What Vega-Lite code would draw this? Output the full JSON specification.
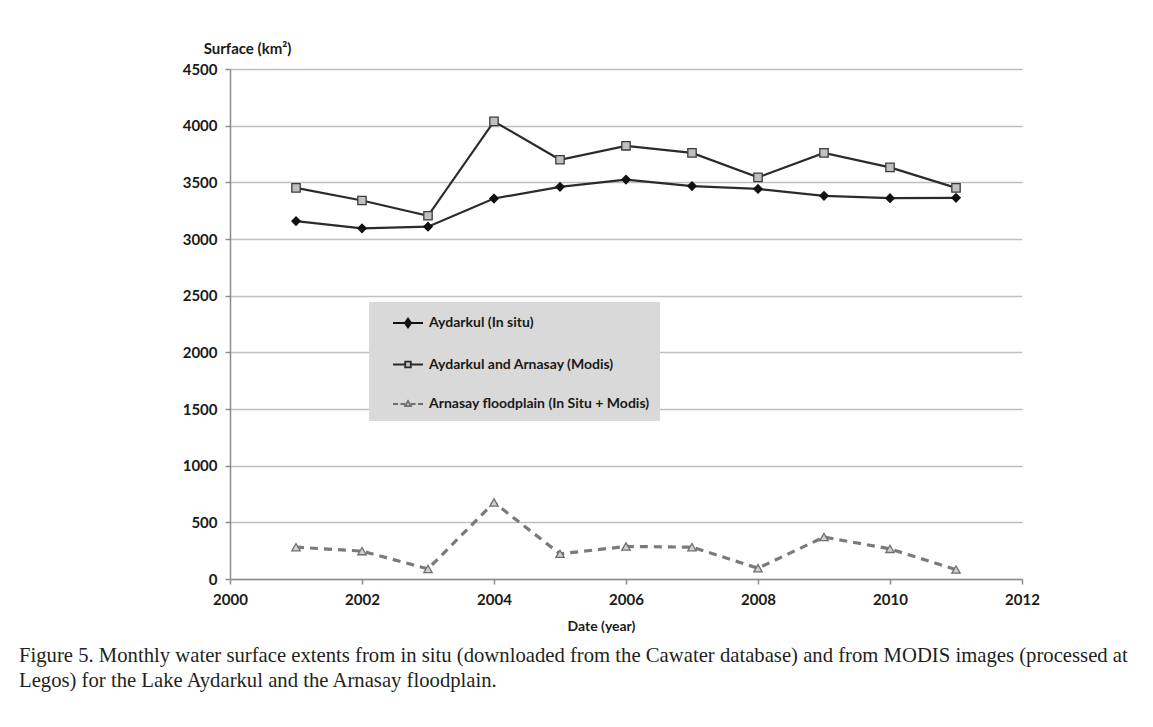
{
  "$schema": "https://vega.github.io/schema/vega-lite/v6.json",
  "width": 792,
  "height": 510,
  "autosize": {"type": "none"},
  "padding": {"left": 230, "top": 69, "right": 131, "bottom": 148},
  "background": "white",
  "title": {
    "text": ["Figure 5. Monthly water surface extents from in situ (downloaded from the Cawater database) and from MODIS images (processed at", "Legos) for the Lake Aydarkul and the Arnasay floodplain."],
    "orient": "bottom",
    "anchor": "start",
    "frame": "group",
    "dx": -211,
    "offset": 13,
    "font": "Liberation Serif",
    "fontSize": 20.7,
    "fontWeight": "normal",
    "color": "#231f20",
    "lineHeight": 25
  },
  "config": {
    "view": {"stroke": null},
    "font": "Lato"
  },
  "data": {
    "values": [
      {"year": 2001, "series": "Aydarkul (In situ)", "value": 3158},
      {"year": 2002, "series": "Aydarkul (In situ)", "value": 3094},
      {"year": 2003, "series": "Aydarkul (In situ)", "value": 3109},
      {"year": 2004, "series": "Aydarkul (In situ)", "value": 3357},
      {"year": 2005, "series": "Aydarkul (In situ)", "value": 3460},
      {"year": 2006, "series": "Aydarkul (In situ)", "value": 3524},
      {"year": 2007, "series": "Aydarkul (In situ)", "value": 3467},
      {"year": 2008, "series": "Aydarkul (In situ)", "value": 3442},
      {"year": 2009, "series": "Aydarkul (In situ)", "value": 3381},
      {"year": 2010, "series": "Aydarkul (In situ)", "value": 3360},
      {"year": 2011, "series": "Aydarkul (In situ)", "value": 3363},
      {"year": 2001, "series": "Aydarkul and Arnasay (Modis)", "value": 3451},
      {"year": 2002, "series": "Aydarkul and Arnasay (Modis)", "value": 3340},
      {"year": 2003, "series": "Aydarkul and Arnasay (Modis)", "value": 3205},
      {"year": 2004, "series": "Aydarkul and Arnasay (Modis)", "value": 4038},
      {"year": 2005, "series": "Aydarkul and Arnasay (Modis)", "value": 3699},
      {"year": 2006, "series": "Aydarkul and Arnasay (Modis)", "value": 3822},
      {"year": 2007, "series": "Aydarkul and Arnasay (Modis)", "value": 3760},
      {"year": 2008, "series": "Aydarkul and Arnasay (Modis)", "value": 3544},
      {"year": 2009, "series": "Aydarkul and Arnasay (Modis)", "value": 3760},
      {"year": 2010, "series": "Aydarkul and Arnasay (Modis)", "value": 3632},
      {"year": 2011, "series": "Aydarkul and Arnasay (Modis)", "value": 3451},
      {"year": 2001, "series": "Arnasay floodplain (In Situ + Modis)", "value": 281},
      {"year": 2002, "series": "Arnasay floodplain (In Situ + Modis)", "value": 246},
      {"year": 2003, "series": "Arnasay floodplain (In Situ + Modis)", "value": 89},
      {"year": 2004, "series": "Arnasay floodplain (In Situ + Modis)", "value": 675},
      {"year": 2005, "series": "Arnasay floodplain (In Situ + Modis)", "value": 222},
      {"year": 2006, "series": "Arnasay floodplain (In Situ + Modis)", "value": 287},
      {"year": 2007, "series": "Arnasay floodplain (In Situ + Modis)", "value": 281},
      {"year": 2008, "series": "Arnasay floodplain (In Situ + Modis)", "value": 95},
      {"year": 2009, "series": "Arnasay floodplain (In Situ + Modis)", "value": 370},
      {"year": 2010, "series": "Arnasay floodplain (In Situ + Modis)", "value": 266},
      {"year": 2011, "series": "Arnasay floodplain (In Situ + Modis)", "value": 83}
    ]
  },
  "encoding": {
    "x": {
      "field": "year",
      "type": "quantitative",
      "scale": {"domain": [2000, 2012], "nice": false, "zero": false},
      "axis": {
        "title": "Date (year)",
        "values": [2000, 2002, 2004, 2006, 2008, 2010, 2012],
        "format": "d",
        "grid": false,
        "domainColor": "#8c8c8c",
        "domainWidth": 1.5,
        "tickColor": "#8c8c8c",
        "tickWidth": 1.5,
        "tickSize": 5,
        "labelPadding": 8,
        "labelFont": "Lato",
        "labelFontWeight": "bold",
        "labelFontSize": 15,
        "labelColor": "#1a1a1a",
        "labelFlush": false,
        "titleFont": "Lato",
        "titleFontWeight": "bold",
        "titleFontSize": 14,
        "titleColor": "#1a1a1a",
        "titleX": 371,
        "titleY": 47,
        "titleAlign": "center",
        "titleBaseline": "middle"
      }
    },
    "y": {
      "field": "value",
      "type": "quantitative",
      "scale": {"domain": [0, 4500], "nice": false},
      "axis": {
        "title": "Surface (km²)",
        "values": [0, 500, 1000, 1500, 2000, 2500, 3000, 3500, 4000, 4500],
        "format": "d",
        "grid": true,
        "gridColor": "#bfbfbf",
        "gridWidth": 1.5,
        "domainColor": "#8c8c8c",
        "domainWidth": 1.5,
        "tickColor": "#8c8c8c",
        "tickWidth": 1.5,
        "tickSize": 5,
        "labelPadding": 8,
        "labelFont": "Lato",
        "labelFontWeight": "bold",
        "labelFontSize": 15,
        "labelColor": "#1a1a1a",
        "labelFlush": false,
        "titleFont": "Lato",
        "titleFontWeight": "bold",
        "titleFontSize": 15,
        "titleColor": "#1a1a1a",
        "titleAngle": 0,
        "titleX": 17,
        "titleY": -21,
        "titleAlign": "center",
        "titleBaseline": "middle"
      }
    }
  },
  "layer": [
    {
      "transform": [{"filter": "datum.series !== 'Arnasay floodplain (In Situ + Modis)'"}],
      "mark": {"type": "line", "strokeWidth": 2.2, "color": "#2b2b2b"},
      "encoding": {"detail": {"field": "series", "type": "nominal"}}
    },
    {
      "transform": [{"filter": "datum.series === 'Arnasay floodplain (In Situ + Modis)'"}],
      "mark": {"type": "line", "strokeWidth": 3.2, "color": "#7a7a7a", "strokeDash": [8, 6]},
      "encoding": {"detail": {"field": "series", "type": "nominal"}}
    },
    {
      "mark": {"type": "point", "filled": true, "strokeWidth": 1.3, "opacity": 1},
      "encoding": {
        "shape": {
          "field": "series",
          "type": "nominal",
          "legend": null,
          "scale": {"domain": ["Aydarkul (In situ)", "Aydarkul and Arnasay (Modis)", "Arnasay floodplain (In Situ + Modis)"], "range": ["diamond", "square", "triangle-up"]}
        },
        "fill": {
          "field": "series",
          "type": "nominal",
          "legend": null,
          "scale": {"domain": ["Aydarkul (In situ)", "Aydarkul and Arnasay (Modis)", "Arnasay floodplain (In Situ + Modis)"], "range": ["#111111", "#c0c0c0", "#d0d0d0"]}
        },
        "stroke": {
          "field": "series",
          "type": "nominal",
          "legend": null,
          "scale": {"domain": ["Aydarkul (In situ)", "Aydarkul and Arnasay (Modis)", "Arnasay floodplain (In Situ + Modis)"], "range": ["#111111", "#3a3a3a", "#6e6e6e"]}
        },
        "size": {"value": 70}
      }
    },
    {
      "mark": {"type": "point", "filled": true, "strokeWidth": 1.8, "opacity": 1, "size": 0},
      "encoding": {
        "shape": {
          "field": "series",
          "type": "nominal",
          "sort": null,
          "scale": {"domain": ["Aydarkul (In situ)", "Aydarkul and Arnasay (Modis)", "Arnasay floodplain (In Situ + Modis)"], "range": ["M-1.5,0H1.5M0,-0.45L0.32,0L0,0.45L-0.32,0Z", "M-1.5,0H-0.28M0.28,0H1.5M-0.28,-0.28H0.28V0.28H-0.28Z", "M-1.5,0H-1M-0.75,0H-0.3M0.3,0H0.75M1,0H1.5M0,-0.3L0.3,0.22H-0.3Z"]},
          "legend": {
            "orient": "none",
            "legendX": 139,
            "legendY": 233,
            "title": null,
            "fillColor": "#d9d9d9",
            "padding": 10,
            "rowPadding": 21.5,
            "symbolSize": 400,
            "symbolOffset": 18,
            "labelOffset": 10,
            "labelFont": "Lato",
            "labelFontWeight": "bold",
            "labelFontSize": 14,
            "labelColor": "#1a1a1a",
            "labelLimit": 400,
            "symbolStrokeWidth": 1.8,
            "symbolOpacity": 1
          }
        },
        "fill": {
          "field": "series",
          "type": "nominal",
          "scale": {"domain": ["Aydarkul (In situ)", "Aydarkul and Arnasay (Modis)", "Arnasay floodplain (In Situ + Modis)"], "range": ["#111111", "#c0c0c0", "#d0d0d0"]}
        },
        "stroke": {
          "field": "series",
          "type": "nominal",
          "scale": {"domain": ["Aydarkul (In situ)", "Aydarkul and Arnasay (Modis)", "Arnasay floodplain (In Situ + Modis)"], "range": ["#111111", "#2b2b2b", "#6e6e6e"]}
        }
      }
    }
  ],
  "resolve": {
    "scale": {"shape": "independent", "fill": "independent", "stroke": "independent"},
    "legend": {"shape": "independent", "fill": "independent", "stroke": "independent"}
  }
}
